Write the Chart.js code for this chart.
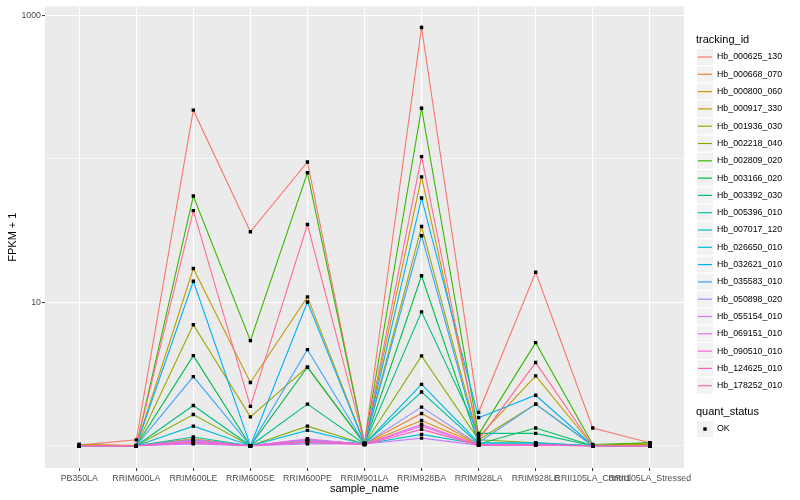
<!DOCTYPE html>
<html>
<head>
<meta charset="utf-8">
<script src="https://cdn.jsdelivr.net/npm/chart.js@4/dist/chart.umd.min.js"></script>
<style>
  body { margin: 0; background: #fff; }
  canvas { display: block; }
</style>
</head>
<body>
<canvas id="line_chart" width="800" height="500"></canvas>
<script>
// カテゴリ・系列
const sampleNames = ['PB350LA', 'RRIM600LA', 'RRIM600LE', 'RRIM600SE', 'RRIM600PE', 'RRIM901LA',
  'RRIM928BA', 'RRIM928LA', 'RRIM928LE', 'RRII105LA_Control', 'RRII105LA_Stressed'];
const trackingIds = ['Hb_000625_130', 'Hb_000668_070', 'Hb_000800_060', 'Hb_000917_330', 'Hb_001936_030',
  'Hb_002218_040', 'Hb_002809_020', 'Hb_003166_020', 'Hb_003392_030', 'Hb_005396_010',
  'Hb_007017_120', 'Hb_026650_010', 'Hb_032621_010', 'Hb_035583_010', 'Hb_050898_020',
  'Hb_055154_010', 'Hb_069151_010', 'Hb_090510_010', 'Hb_124625_010', 'Hb_178252_010'];
const lineColors = ['#F8766D', '#EA8331', '#D89000', '#C09B00', '#A3A500', '#7CAE00', '#39B600', '#00BB4E',
  '#00BF7D', '#00C1A3', '#00BFC4', '#00BAE0', '#00B0F6', '#35A2FF', '#9590FF', '#C77CFF',
  '#E76BF3', '#FA62DB', '#FF62BC', '#FF6C91'];

// FPKM + 1 の値
const hb_000625_130 = [1.01, 1.1, 218, 31, 95, 1.04, 822, 1.71, 16.2, 1.33, 1.05];
const hb_000668_070 = [1.02, 1.0, 1.12, 1.0, 1.1, 1.03, 1.68, 1.02, 1.02, 1.0, 1.01];
const hb_000800_060 = [1.0, 1.01, 1.1, 1.0, 1.08, 1.03, 1.5, 1.02, 1.02, 1.0, 1.0];
const hb_000917_330 = [1.0, 1.0, 17.2, 2.76, 10.9, 1.04, 74.8, 1.15, 3.07, 1.0, 1.02];
const hb_001936_030 = [1.02, 1.0, 6.97, 1.59, 3.53, 1.03, 33.7, 1.1, 1.95, 1.0, 1.03];
const hb_002218_040 = [1.0, 1.0, 1.65, 1.0, 1.37, 1.03, 4.23, 1.1, 1.05, 1.0, 1.05];
const hb_002809_020 = [1.0, 1.0, 55, 5.4, 79.8, 1.04, 225, 1.2, 5.23, 1.02, 1.05];
const hb_003166_020 = [1.0, 1.0, 4.25, 1.0, 3.53, 1.03, 15.3, 1.03, 1.33, 1.0, 1.0];
const hb_003392_030 = [1.0, 1.0, 1.91, 1.0, 1.95, 1.03, 8.57, 1.22, 1.22, 1.0, 1.0];
const hb_005396_010 = [1.0, 1.0, 1.15, 1.0, 1.1, 1.03, 2.37, 1.03, 1.03, 1.0, 1.0];
const hb_007017_120 = [1.0, 1.0, 1.05, 1.0, 1.05, 1.03, 1.2, 1.03, 1.03, 1.0, 1.0];
const hb_026650_010 = [1.0, 1.0, 1.37, 1.0, 1.28, 1.03, 2.68, 1.05, 1.05, 1.0, 1.0];
const hb_032621_010 = [1.0, 1.0, 14, 1.0, 10.05, 1.03, 53.3, 1.57, 2.25, 1.0, 1.0];
const hb_035583_010 = [1.0, 1.0, 3.03, 1.0, 4.68, 1.03, 29.1, 1.05, 1.95, 1.0, 1.0];
const hb_050898_020 = [1.0, 1.0, 1.1, 1.0, 1.1, 1.03, 1.86, 1.02, 1.02, 1.0, 1.0];
const hb_055154_010 = [1.0, 1.0, 1.03, 1.0, 1.03, 1.03, 1.13, 1.01, 1.01, 1.0, 1.0];
const hb_069151_010 = [1.0, 1.0, 1.08, 1.0, 1.12, 1.02, 1.37, 1.01, 1.01, 1.0, 1.0];
const hb_090510_010 = [1.0, 1.0, 1.05, 1.0, 1.08, 1.02, 1.41, 1.01, 1.01, 1.0, 1.0];
const hb_124625_010 = [1.0, 1.0, 1.06, 1.0, 1.06, 1.02, 1.3, 1.01, 1.01, 1.0, 1.0];
const hb_178252_010 = [1.0, 1.0, 43.5, 1.88, 34.8, 1.04, 103.5, 1.1, 3.8, 1.0, 1.0];

const seriesValues = [hb_000625_130, hb_000668_070, hb_000800_060, hb_000917_330, hb_001936_030,
  hb_002218_040, hb_002809_020, hb_003166_020, hb_003392_030, hb_005396_010,
  hb_007017_120, hb_026650_010, hb_032621_010, hb_035583_010, hb_050898_020,
  hb_055154_010, hb_069151_010, hb_090510_010, hb_124625_010, hb_178252_010];

// y軸の目盛り
const yTicks = [1, 10, 100, 1000];
const yTickLabels = ['', '10', '', '1000'];

const FONT = "'Liberation Sans', Arial, Helvetica, sans-serif";

// 線のデータセット（ggplotと同じく後の系列を上に描く）
const datasets = seriesValues.map((vals, i) => ({
  type: 'line',
  label: trackingIds[i],
  data: vals.map((v, j) => ({ x: j, y: v })),
  borderColor: lineColors[i],
  borderWidth: 1.1,
  pointRadius: 0,
  tension: 0,
  order: 100 - i,
}));
// 点（quant_status = OK）
datasets.push({
  type: 'scatter',
  label: 'OK',
  data: seriesValues.flatMap(vals => vals.map((v, j) => ({ x: j, y: v }))),
  backgroundColor: '#000',
  borderColor: '#000',
  borderWidth: 0,
  pointStyle: 'rect',
  pointRadius: 2.4,
  order: 0,
});

// パネル背景
const panelBg = {
  id: 'panelBg',
  beforeDraw(chart) {
    const { ctx, chartArea: a } = chart;
    ctx.save();
    ctx.fillStyle = '#fff';
    ctx.fillRect(0, 0, chart.width, chart.height);
    ctx.fillStyle = '#EBEBEB';
    ctx.fillRect(a.left, a.top, a.right - a.left, a.bottom - a.top);
    ctx.restore();
  }
};

// 凡例（tracking_id と quant_status）
const ggLegend = {
  id: 'ggLegend',
  afterDraw(chart) {
    const ctx = chart.ctx;
    const x0 = 697, step = 17.3, key = 16;
    ctx.save();
    ctx.textBaseline = 'middle';
    ctx.textAlign = 'left';
    ctx.fillStyle = '#000';
    ctx.font = '11px ' + FONT;
    ctx.fillText('tracking_id', 696, 40);
    trackingIds.forEach((id, i) => {
      const cy = 57 + i * step;
      ctx.fillStyle = '#F2F2F2';
      ctx.fillRect(x0, cy - key / 2, key, key);
      ctx.strokeStyle = lineColors[i];
      ctx.lineWidth = 1.2;
      ctx.beginPath();
      ctx.moveTo(x0 + 1, cy);
      ctx.lineTo(x0 + key - 1, cy);
      ctx.stroke();
      ctx.fillStyle = '#000';
      ctx.font = '8.8px ' + FONT;
      ctx.fillText(id, 717, cy);
    });
    ctx.font = '11px ' + FONT;
    ctx.fillText('quant_status', 696, 412);
    const cy = 429;
    ctx.fillStyle = '#F2F2F2';
    ctx.fillRect(x0, cy - key / 2, key, key);
    ctx.fillStyle = '#000';
    ctx.fillRect(x0 + key / 2 - 1.7, cy - 1.7, 3.4, 3.4);
    ctx.font = '8.8px ' + FONT;
    ctx.fillText('OK', 717, cy);
    ctx.restore();
  }
};

new Chart(document.getElementById('line_chart'), {
  data: { datasets },
  plugins: [panelBg, ggLegend],
  options: {
    responsive: false,
    animation: false,
    events: [],
    layout: { padding: { top: 5, right: 116, left: 0, bottom: 0 } },
    plugins: {
      legend: { display: false },
      tooltip: { enabled: false },
    },
    scales: {
      x: {
        type: 'linear',
        min: -0.6,
        max: 10.6,
        afterFit: (s) => { s.height = 32; },
        afterBuildTicks: (s) => { s.ticks = sampleNames.map((_, i) => ({ value: i })); },
        grid: {
          color: '#fff',
          lineWidth: 1.1,
          tickColor: '#333',
          tickLength: 3,
          tickWidth: 1,
        },
        border: { display: false },
        ticks: {
          autoSkip: false,
          maxRotation: 0,
          minRotation: 0,
          padding: 2,
          color: '#4D4D4D',
          font: { family: FONT, size: 8.8 },
          callback: (v) => sampleNames[v],
        },
        title: {
          display: true,
          text: 'sample_name',
          color: '#000',
          font: { family: FONT, size: 11 },
          padding: { top: 0, bottom: 4.4 },
        },
      },
      y: {
        type: 'logarithmic',
        min: Math.pow(10, -0.1455),
        max: Math.pow(10, 3.0624),
        afterFit: (s) => { s.width = 45; },
        afterBuildTicks: (s) => { s.ticks = yTicks.map(v => ({ value: v })); },
        grid: {
          color: '#fff',
          lineWidth: (c) => (yTickLabels[c.index] ? 1.1 : 0.55),
          tickColor: (c) => (yTickLabels[c.index] ? '#333' : 'rgba(0,0,0,0)'),
          tickLength: 3,
          tickWidth: 1,
        },
        border: { display: false },
        ticks: {
          padding: 1,
          color: '#4D4D4D',
          font: { family: FONT, size: 8.8 },
          callback: (v, i) => yTickLabels[i],
        },
        title: {
          display: true,
          text: 'FPKM + 1',
          color: '#000',
          font: { family: FONT, size: 11 },
          padding: { top: 6.4, bottom: 0 },
        },
      },
    },
  },
});
</script>
</body>
</html>
